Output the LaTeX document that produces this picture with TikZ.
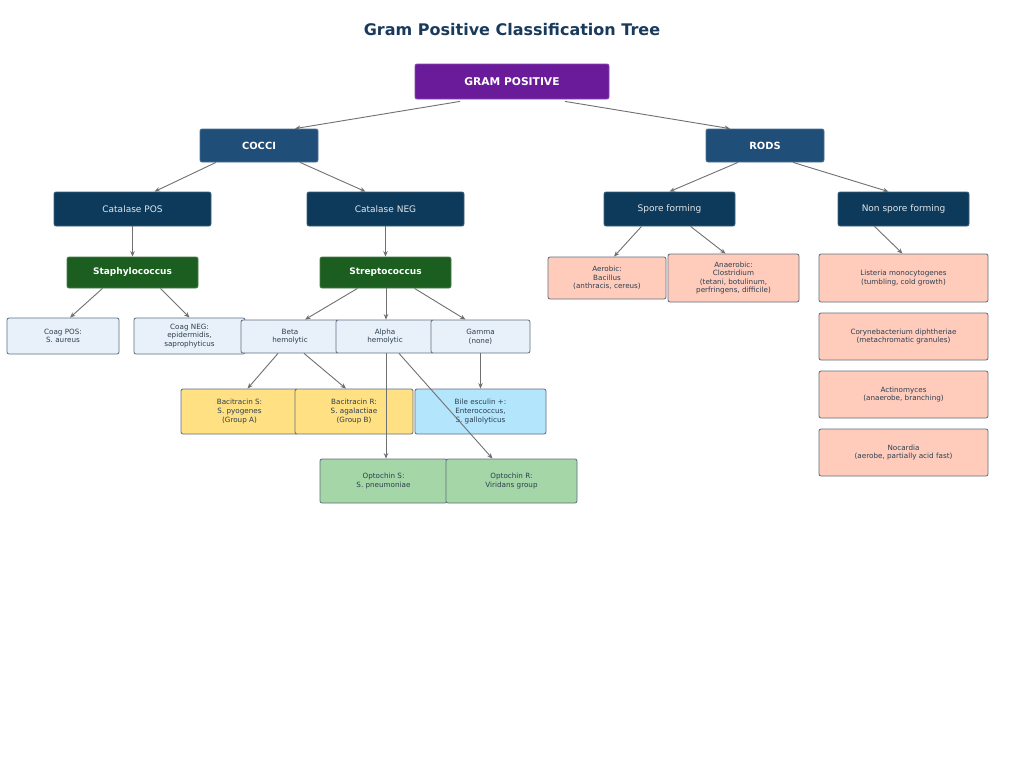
\documentclass[tikz,border=0pt]{standalone}
\usepackage{fontspec}
\setmainfont{DejaVu Sans}
\usetikzlibrary{calc,arrows.meta}
\definecolor{titlec}{HTML}{1A3A5C}
\definecolor{purp}{HTML}{6A1B9A}
\definecolor{navy}{HTML}{1F4E79}
\definecolor{dnavy}{HTML}{0D3A5A}
\definecolor{dgreen}{HTML}{1B5E20}
\definecolor{lblue}{HTML}{E8F1F9}
\definecolor{bord}{HTML}{5F6F80}
\definecolor{yel}{HTML}{FFE082}
\definecolor{sky}{HTML}{B3E5FC}
\definecolor{lgreen}{HTML}{A5D6A7}
\definecolor{salmon}{HTML}{FFCCBC}
\definecolor{txt}{HTML}{2C3E50}
\definecolor{arr}{HTML}{707070}
\tikzset{
  box/.style={rectangle, rounded corners=2pt, inner sep=0pt, align=center, line width=0.8pt},
  darkbox/.style={box, text=white},
  leaf/.style={box, draw=bord, text=txt, font=\fontsize{7.2}{8.6}\selectfont},
  conn/.style={draw=arr, line width=0.9pt, -{Stealth[length=5.5pt,width=4.5pt]}},
}
\newcommand{\bx}[7]{% name, x1, y1, x2, y2, style, text
  \node[#6, minimum width={(#4-#2)*1pt}, minimum height={(#5-#3)*1pt}] (#1) at ({(#2+#4)/2},{(#3+#5)/2}) {#7};}
\begin{document}
\begin{tikzpicture}[x=1pt,y=-1pt]
\useasboundingbox[fill=white] (0,0) rectangle (1024,766);
\node[font=\fontsize{16}{19}\selectfont\bfseries, text=titlec] (title) at (512,30) {Gram Positive Classification Tree};
\bx{gp}{415}{64}{609}{99}{darkbox, fill=purp, draw=purp!80!white, font=\fontsize{10.7}{12}\selectfont\bfseries}{GRAM POSITIVE}
\bx{cocci}{200}{129}{318}{162}{darkbox, fill=navy, draw=navy!80!white, font=\fontsize{9.9}{11}\selectfont\bfseries}{COCCI}
\bx{rods}{706}{129}{824}{162}{darkbox, fill=navy, draw=navy!80!white, font=\fontsize{9.9}{11}\selectfont\bfseries}{RODS}
\bx{cpos}{54}{192}{211}{226}{darkbox, fill=dnavy, draw=dnavy!80!white, text=white!88!dnavy, font=\fontsize{9}{10}\selectfont}{Catalase POS}
\bx{cneg}{307}{192}{464}{226}{darkbox, fill=dnavy, draw=dnavy!80!white, text=white!88!dnavy, font=\fontsize{9}{10}\selectfont}{Catalase NEG}
\bx{spore}{604}{192}{735}{226}{darkbox, fill=dnavy, draw=dnavy!80!white, text=white!88!dnavy, font=\fontsize{9}{10}\selectfont}{Spore forming}
\bx{nspore}{838}{192}{969}{226}{darkbox, fill=dnavy, draw=dnavy!80!white, text=white!88!dnavy, font=\fontsize{9}{10}\selectfont}{Non spore forming}
\bx{staph}{67}{257}{198}{288}{darkbox, fill=dgreen, draw=dgreen!80!white, font=\fontsize{9}{10}\selectfont\bfseries}{Staphylococcus}
\bx{strep}{320}{257}{451}{288}{darkbox, fill=dgreen, draw=dgreen!80!white, font=\fontsize{9}{10}\selectfont\bfseries}{Streptococcus}
\bx{cgpos}{7}{318}{119}{354}{leaf, fill=lblue}{Coag POS:\\S. aureus}
\bx{cgneg}{134}{318}{245}{354}{leaf, fill=lblue}{Coag NEG:\\epidermidis,\\saprophyticus}
\bx{beta}{241}{320}{339}{353}{leaf, fill=lblue}{Beta\\hemolytic}
\bx{alpha}{336}{320}{434}{353}{leaf, fill=lblue}{Alpha\\hemolytic}
\bx{gamma}{431}{320}{530}{353}{leaf, fill=lblue}{Gamma\\(none)}
\bx{bacs}{181}{389}{298}{434}{leaf, fill=yel}{Bacitracin S:\\S. pyogenes\\(Group A)}
\bx{bacr}{295}{389}{413}{434}{leaf, fill=yel}{Bacitracin R:\\S. agalactiae\\(Group B)}
\bx{bile}{415}{389}{546}{434}{leaf, fill=sky}{Bile esculin +:\\Enterococcus,\\S. gallolyticus}
\bx{opts}{320}{459}{447}{503}{leaf, fill=lgreen}{Optochin S:\\S. pneumoniae}
\bx{optr}{446}{459}{577}{503}{leaf, fill=lgreen}{Optochin R:\\Viridans group}
\bx{aer}{548}{257}{666}{299}{leaf, fill=salmon}{Aerobic:\\Bacillus\\(anthracis, cereus)}
\bx{anaer}{668}{254}{799}{302}{leaf, fill=salmon}{Anaerobic:\\Clostridium\\(tetani, botulinum,\\perfringens, difficile)}
\bx{list}{819}{254}{988}{302}{leaf, fill=salmon}{Listeria monocytogenes\\(tumbling, cold growth)}
\bx{coryne}{819}{313}{988}{360}{leaf, fill=salmon}{Corynebacterium diphtheriae\\(metachromatic granules)}
\bx{actino}{819}{371}{988}{418}{leaf, fill=salmon}{Actinomyces\\(anaerobe, branching)}
\bx{nocard}{819}{429}{988}{476}{leaf, fill=salmon}{Nocardia\\(aerobe, partially acid fast)}
% connectors
\draw[conn] ([xshift=-52pt,yshift=-2pt]gp.south) -- ([xshift=36pt]cocci.north);
\draw[conn] ([xshift=53pt,yshift=-2pt]gp.south) -- ([xshift=-35pt]rods.north);
\draw[conn] ([xshift=-43pt]cocci.south) -- ([xshift=22pt]cpos.north);
\draw[conn] ([xshift=41pt]cocci.south) -- ([xshift=-20pt]cneg.north);
\draw[conn] ([xshift=-27pt]rods.south) -- ([xshift=0pt]spore.north);
\draw[conn] ([xshift=28pt]rods.south) -- ([xshift=-15pt]nspore.north);
\draw[conn] (cpos.south) -- (staph.north);
\draw[conn] (cneg.south) -- (strep.north);
\draw[conn] ([xshift=-30pt]staph.south) -- ([xshift=7pt]cgpos.north);
\draw[conn] ([xshift=28pt]staph.south) -- ([xshift=0pt]cgneg.north);
\draw[conn] ([xshift=-28pt]strep.south) -- ([xshift=15pt]beta.north);
\draw[conn] ([xshift=0.5pt]strep.south) -- ([xshift=1pt]alpha.north);
\draw[conn] ([xshift=29pt]strep.south) -- ([xshift=-15pt]gamma.north);
\draw[conn] ([xshift=-12pt]beta.south) -- ([xshift=8pt]bacs.north);
\draw[conn] ([xshift=14pt]beta.south) -- ([xshift=-8pt]bacr.north);
\draw[conn] ([xshift=1pt]alpha.south) -- ([xshift=2.5pt]opts.north);
\draw[conn] ([xshift=14pt]alpha.south) -- ([xshift=-19pt]optr.north);
\draw[conn] (gamma.south) -- ([xshift=0pt]bile.north);
\draw[conn] ([xshift=-28pt]spore.south) -- ([xshift=7pt]aer.north);
\draw[conn] ([xshift=21pt]spore.south) -- ([xshift=-8pt]anaer.north);
\draw[conn] ([xshift=-29pt]nspore.south) -- ([xshift=-1pt]list.north);
\end{tikzpicture}
\end{document}
